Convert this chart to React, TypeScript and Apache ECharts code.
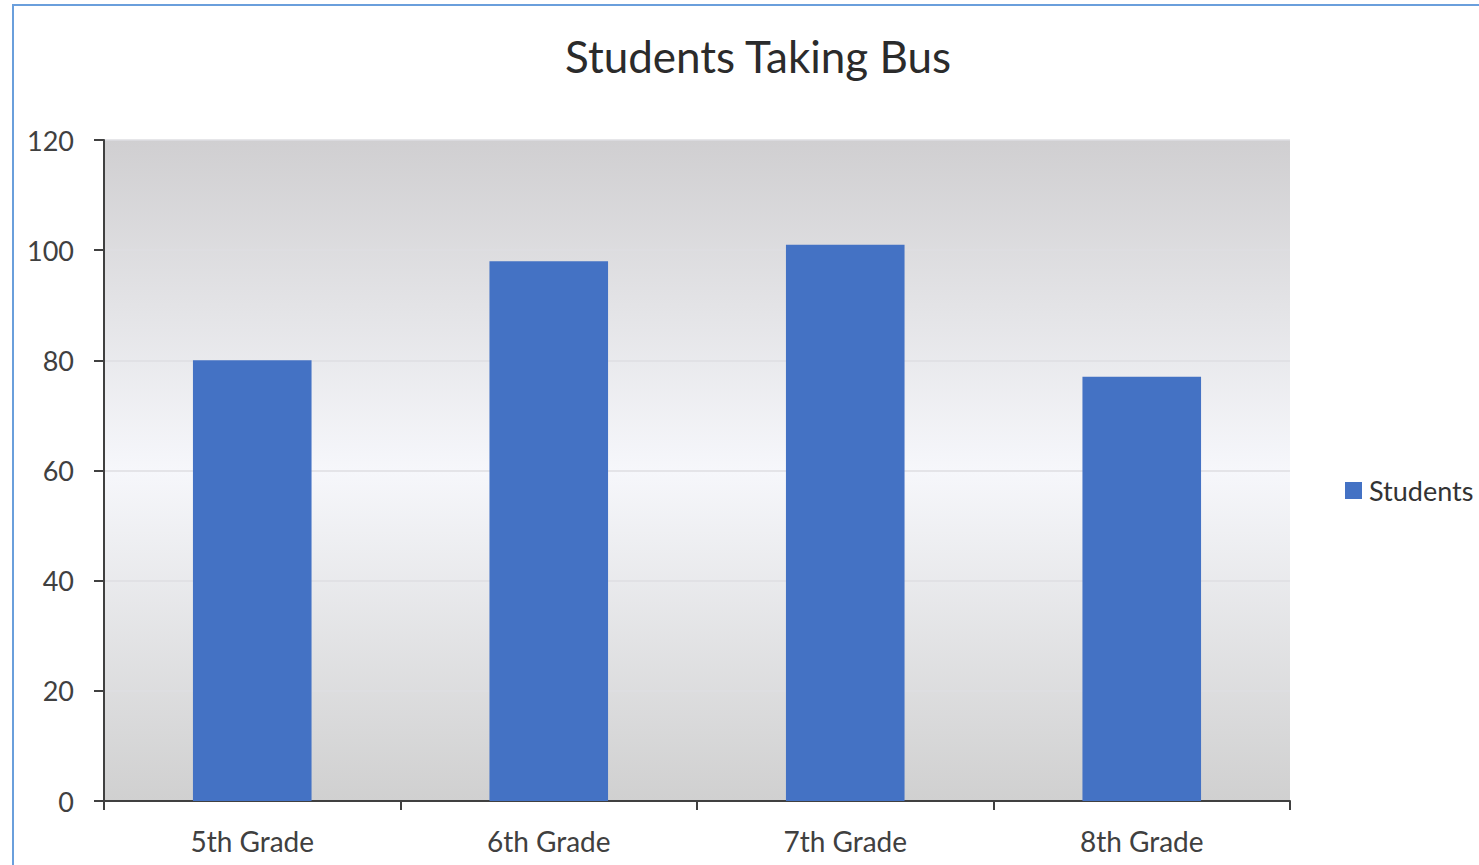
import React, { useEffect, useRef } from "react";
import * as echarts from "echarts";

const categories = ["5th Grade", "6th Grade", "7th Grade", "8th Grade"];
const studentValues = [80, 98, 101, 77];
const seriesName = "Students";
const titleText = "Students Taking Bus";

export default function App() {
  const ref = useRef<HTMLDivElement>(null);
  useEffect(() => {
    if (!ref.current) return;
    const chart = echarts.init(ref.current, undefined, { renderer: "svg" });
    const font = "Lato";
    chart.setOption({
      animation: false,
      backgroundColor: "#ffffff",
      title: {
        text: titleText,
        left: 565,
        top: 34,
        padding: 0,
        textStyle: { fontFamily: font, fontSize: 44, fontWeight: "normal", color: "#2b2b2b" },
      },
      graphic: [
        {
          type: "rect",
          shape: { x: 13, y: 5, width: 1600, height: 1000 },
          style: { fill: "none", stroke: "#6a9fdc", lineWidth: 2 },
          silent: true,
          z: 100,
        },
      ],
      legend: {
        left: 1345,
        top: 477,
        padding: 0,
        itemWidth: 17,
        itemHeight: 17,
        icon: "rect",
        textStyle: { fontFamily: font, fontSize: 27, color: "#333333", padding: [0, 0, 0, 2] },
        data: [seriesName],
      },
      grid: {
        left: 104,
        top: 140,
        width: 1186,
        height: 661,
        show: true,
        borderWidth: 0,
        backgroundColor: new echarts.graphic.LinearGradient(0, 0, 0, 1, [
          { offset: 0, color: "#d0cfd1" },
          { offset: 0.5, color: "#f6f7fb" },
          { offset: 1, color: "#d0d0d0" },
        ]),
      },
      xAxis: {
        type: "category",
        data: categories,
        axisLine: { lineStyle: { color: "#404040", width: 2 } },
        axisTick: { show: true, length: 9, lineStyle: { color: "#404040", width: 2 } },
        axisLabel: { fontFamily: font, fontSize: 28, color: "#404040", margin: 26 },
      },
      yAxis: {
        type: "value",
        min: 0,
        max: 120,
        interval: 20,
        axisLine: { show: true, lineStyle: { color: "#404040", width: 2 } },
        axisTick: { show: true, length: 10, lineStyle: { color: "#404040", width: 2 } },
        axisLabel: { fontFamily: font, fontSize: 27, color: "#404040", margin: 30 },
        splitLine: { lineStyle: { color: "#dedee2", width: 1.5 } },
      },
      series: [
        {
          name: seriesName,
          type: "bar",
          data: studentValues,
          barWidth: "40%",
          itemStyle: { color: "#4472c4" },
        },
      ],
    });
    return () => chart.dispose();
  }, []);
  return (
    <div
      ref={ref}
      style={{ position: "fixed", left: 0, top: 0, width: 1479, height: 865 }}
    />
  );
}
